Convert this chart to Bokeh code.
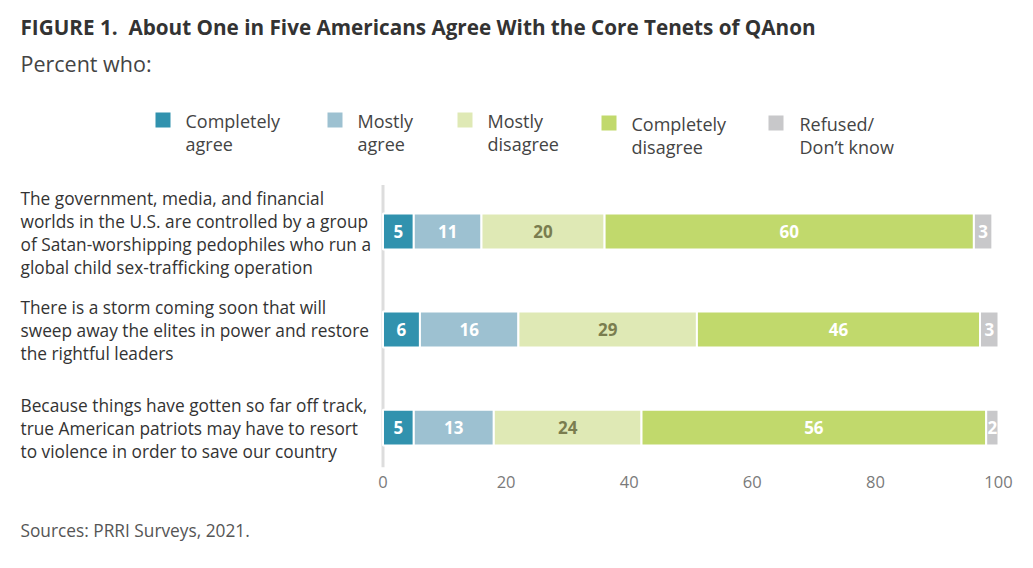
from bokeh.plotting import figure
from bokeh.models import Range1d, Label, BoxAnnotation, FixedTicker, ColumnDataSource, Title
from bokeh.core.properties import value
from bokeh.embed import file_html
from bokeh.resources import INLINE

# ---------------- data ----------------
series = ["Completely\nagree", "Mostly\nagree", "Mostly\ndisagree", "Completely\ndisagree", "Refused/\nDon\u2019t know"]
colors = ["#3192ae", "#9dc1d1", "#dfe9b5", "#c1d96c", "#c8c8ca"]
text_colors = ["white", "white", "#7a7d4f", "white", "white"]
categories = [
    "The government, media, and financial\nworlds in the U.S. are controlled by a group\nof Satan-worshipping pedophiles who run a\nglobal child sex-trafficking operation",
    "There is a storm coming soon that will\nsweep away the elites in power and restore\nthe rightful leaders",
    "Because things have gotten so far off track,\ntrue American patriots may have to resort\nto violence in order to save our country",
]
completely_agree = [5, 6, 5]
mostly_agree = [11, 16, 13]
mostly_disagree = [20, 29, 24]
completely_disagree = [60, 46, 56]
refused = [3, 3, 2]
values = [completely_agree, mostly_agree, mostly_disagree, completely_disagree, refused]
x_ticks = [0, 20, 40, 60, 80, 100]

title = "FIGURE 1.\u00a0 About One in Five Americans Agree With the Core Tenets of QAnon"
subtitle = "Percent who:"
source = "Sources: PRRI Surveys, 2021."

FONT = "Open Sans"

# ---------------- layout ----------------
W, H = 1025, 568
FRAME_BOTTOM = 468            # canvas y of the frame bottom (x axis position)
X0, X100 = 382.5, 998.0       # canvas x of 0 and 100
PX_PER_X = (X100 - X0) / 100.0
Y_CENTER0, PX_PER_Y = 231.5, 98.25   # canvas y of first bar centre, px per bar step

x_start = -X0 / PX_PER_X
x_end = (W - X0) / PX_PER_X
y_bottom = (FRAME_BOTTOM - Y_CENTER0) / PX_PER_Y
y_top = -Y_CENTER0 / PX_PER_Y

p = figure(width=W, height=H, output_backend="svg", toolbar_location=None,
           x_range=Range1d(x_start, x_end), y_range=Range1d(y_bottom, y_top),
           min_border_left=0, min_border_right=0, min_border_top=0,
           min_border_bottom=H - FRAME_BOTTOM)
p.outline_line_color = None
p.grid.visible = False
p.yaxis.visible = False
p.background_fill_color = "white"
p.border_fill_color = "white"

xa = p.xaxis[0]
xa.ticker = FixedTicker(ticks=x_ticks)
xa.axis_line_color = None
xa.major_tick_line_color = None
xa.minor_tick_line_color = None
xa.major_tick_out = 0
xa.major_tick_in = 0
xa.major_label_standoff = 8
xa.major_label_text_font = FONT
xa.major_label_text_font_size = "16.5px"
xa.major_label_text_color = "#7a7a7a"

# source note below the axis
p.add_layout(Title(text=source, align="left", offset=20, standoff=53,
                   text_font=FONT, text_font_size="17.3px", text_font_style="normal",
                   text_color="#555555"), "below")

# vertical baseline at x = 0 (spans the bar area)
axis_top = (185 - Y_CENTER0) / PX_PER_Y
p.segment(x0=[0], x1=[0], y0=[axis_top], y1=[y_bottom], line_color="#dddddd", line_width=3)

# bars
ys = list(range(len(categories)))
cum = [0] * len(categories)
for k, vals in enumerate(values):
    lefts = cum[:]
    rights = [l + v for l, v in zip(lefts, vals)]
    centers = [(l + r) / 2 for l, r in zip(lefts, rights)]
    src = ColumnDataSource(dict(y=ys, left=lefts, right=rights, cx=centers,
                                txt=[str(v) for v in vals]))
    p.hbar(y="y", left="left", right="right", height=0.366, source=src,
           fill_color=colors[k], line_color="white", line_width=2)
    p.text(x="cx", y="y", text="txt", source=src, text_align="center", text_baseline="middle",
           text_font=value(FONT), text_font_style="bold", text_font_size="17px",
           text_color=text_colors[k])
    cum = rights


def sy(canvas_y):
    return FRAME_BOTTOM - canvas_y


def label(px, py, text, size, color, bold=False):
    p.add_layout(Label(x=px, y=sy(py), x_units="screen", y_units="screen",
                       text=text, text_font=FONT, text_font_size=size, text_color=color,
                       text_font_style="bold" if bold else "normal",
                       text_align="left", text_baseline="middle"))


# title / subtitle
label(20, 27, title, "20.7px", "#333333", bold=True)
label(20, 64, subtitle, "21.5px", "#444444")

# category labels
LH = 23
for i, cat in enumerate(categories):
    lines = cat.split("\n")
    n = len(lines)
    for j, line in enumerate(lines):
        p.add_layout(Label(x=20, y=ys[i], x_units="screen", y_units="data",
                           y_offset=((n - 1) / 2 - j) * LH - 1,
                           text=line, text_font=FONT, text_font_size="17.3px", text_color="#333333",
                           text_align="left", text_baseline="middle"))

# legend
leg_sq_x = [155, 327, 457, 601, 768]
leg_sq_y = [113, 113, 113, 116, 116]
leg_tx_x = [185, 357, 487, 631, 799]
SQ = 15
for k, name in enumerate(series):
    x0 = leg_sq_x[k]
    y0 = leg_sq_y[k]
    p.add_layout(BoxAnnotation(left=x0, right=x0 + SQ, top=sy(y0), bottom=sy(y0 + SQ),
                               left_units="screen", right_units="screen",
                               top_units="screen", bottom_units="screen",
                               fill_color=colors[k], fill_alpha=1.0, line_color=None))
    for j, line in enumerate(name.split("\n")):
        label(leg_tx_x[k], leg_sq_y[k] + 8.5 + j * 22.5, line, "18px", "#444444")

open("out.html", "w").write(file_html(p, INLINE))
